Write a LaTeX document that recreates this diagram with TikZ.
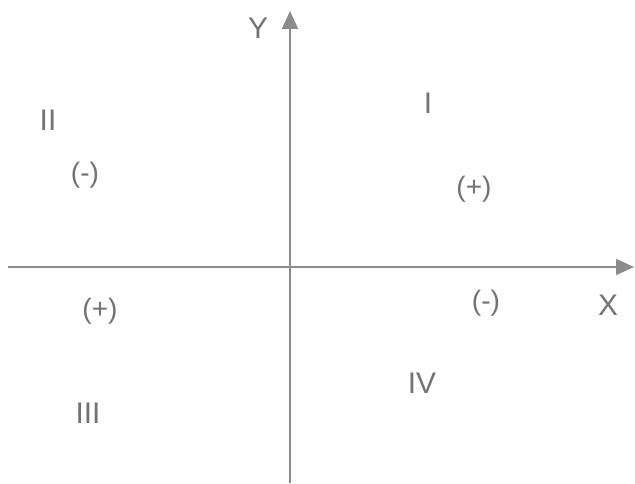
\documentclass[tikz,border=0pt]{standalone}
\usepackage{fontspec}
\setmainfont{Liberation Sans}
\usetikzlibrary{arrows.meta}

\begin{document}
\begin{tikzpicture}[
  axis/.style={draw=gray!90, line width=1.1pt, -{Triangle[length=3.6mm, width=3.2mm]}},
  lbl/.style={text=gray!90!black, font=\fontsize{17}{20}\selectfont, inner sep=0pt},
  sgn/.style={text=gray!90!black, font=\fontsize{16}{19}\selectfont, inner sep=0pt}]

\useasboundingbox (0,0) rectangle (12.7,9.66);

\coordinate (xstart) at (0.16,4.32);
\coordinate (xend) at (12.68,4.32);
\coordinate (ystart) at (5.8,0);
\coordinate (yend) at (5.8,9.44);

\draw[axis] (xstart) -- (xend);
\draw[axis] (ystart) -- (yend);

\node[lbl] (ylabel) at (5.16,9.1) {Y};
\node[lbl] (xlabel) at (12.16,3.56) {X};

\node[lbl] (q1) at (8.56,7.6) {I};
\node[lbl] (q2) at (0.96,7.26) {II};
\node[lbl] (q3) at (1.76,1.4) {III};
\node[lbl] (q4) at (8.44,2.0) {IV};

\node[sgn] (s2) at (1.7,6.16) {(-)};
\node[sgn] (s1) at (9.48,5.88) {(+)};
\node[sgn] (s3) at (2.0,3.44) {(+)};
\node[sgn] (s4) at (9.72,3.6) {(-)};

\end{tikzpicture}
\end{document}
